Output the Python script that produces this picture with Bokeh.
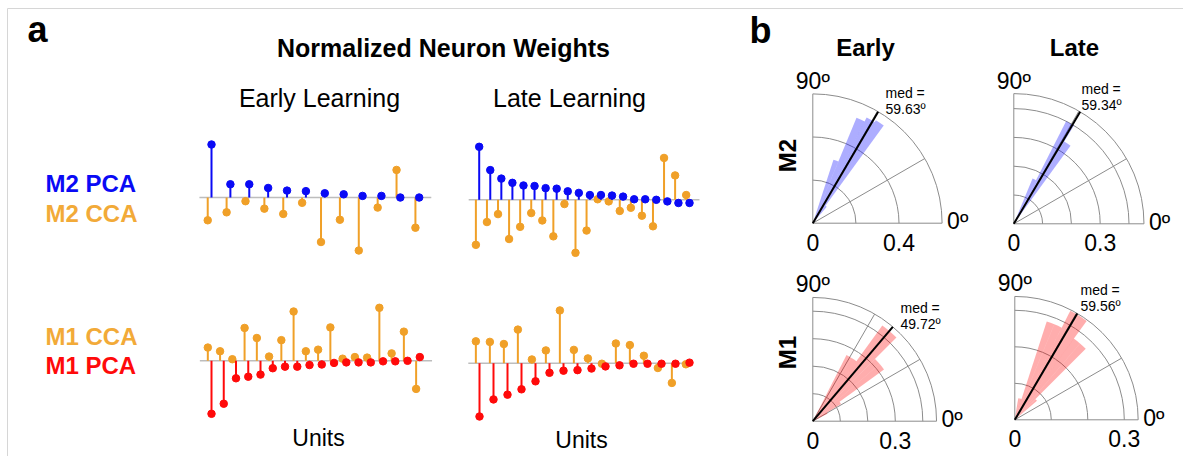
import numpy as np
from bokeh.plotting import figure
from bokeh.models import Range1d, Label
from bokeh.embed import file_html
from bokeh.resources import INLINE

W, H = 1183, 456
FONT = "Liberation Sans"

# ---- normalized neuron weights (stem plots) ----
early_m2_pca = [1.00, 0.25, 0.25, 0.18, 0.13, 0.12, 0.08, 0.06, 0.03, 0.03, 0.00, 0.00]
early_m2_cca = [-0.43, -0.28, -0.07, -0.21, -0.31, -0.10, -0.84, -0.42, -1.00, -0.19, 0.52, -0.57]

late_m2_pca = [1.00, 0.56, 0.40, 0.32, 0.27, 0.26, 0.22, 0.21, 0.16, 0.13,
               0.09, 0.09, 0.08, 0.06, 0.01, 0.01, 0.00, -0.03, -0.06, -0.06]
late_m2_cca = [-0.85, -0.42, -0.27, -0.74, -0.51, -0.25, -0.39, -0.69, -0.08, -1.00,
               -0.58, 0.01, -0.03, -0.21, -0.15, -0.30, -0.50, 0.79, 0.46, 0.09]

early_m1_pca = [-1.00, -0.81, -0.33, -0.30, -0.26, -0.14, -0.11, -0.11, -0.08,
                -0.07, -0.04, -0.03, -0.03, -0.03, -0.01, -0.01, 0.00, 0.07]
early_m1_cca = [0.25, 0.18, 0.03, 0.62, 0.43, 0.08, 0.39, 0.93, 0.18,
                0.21, 0.63, 0.04, 0.07, 0.06, 1.00, 0.14, 0.55, -0.53]

late_m1_pca = [-1.00, -0.68, -0.59, -0.49, -0.34, -0.18, -0.14, -0.13,
               -0.10, -0.06, -0.04, -0.01, -0.01, -0.01, -0.01, 0.01]
late_m1_cca = [0.41, 0.40, 0.36, 0.63, 0.07, 0.24, 0.99, 0.25,
               0.09, -0.01, 0.37, 0.34, 0.14, -0.09, -0.37, -0.02]

# ---- angle distributions (rose histograms), bins of BIN_W degrees ----
BIN_W = 4.5
early_m2_theta = [49.5, 54.0, 58.5, 63.0, 67.5]
early_m2_r = [0.10, 0.56, 0.55, 0.53, 0.31]
early_m2_med = 59.63

late_m2_theta = [54.0, 58.5, 63.0]
late_m2_r = [0.335, 0.40, 0.17]
late_m2_med = 59.34

early_m1_theta = [27.0, 31.5, 36.0, 40.5, 45.0, 49.5, 54.0, 58.5]
early_m1_r = [0.06, 0.12, 0.32, 0.32, 0.43, 0.43, 0.27, 0.27]
early_m1_med = 49.72

late_m1_theta = [40.5, 45.0, 49.5, 54.0, 58.5, 63.0, 67.5, 72.0, 76.5]
late_m1_r = [0.08, 0.275, 0.275, 0.335, 0.335, 0.283, 0.283, 0.06, 0.06]
late_m1_med = 59.56

BLUE = "#0A0AF5"
RED = "#FF0A0A"
ORANGE = "#F0A028"
ORANGE_TXT = "#F2AA38"
GRID = "#8C8C8C"

p = figure(width=W, height=H, output_backend="svg", toolbar_location=None,
           x_range=Range1d(0, W), y_range=Range1d(H, 0),
           x_axis_location=None, y_axis_location=None, min_border=0,
           outline_line_color=None, background_fill_color="white")
p.xgrid.visible = False
p.ygrid.visible = False


def text(x, y, s, size, color="black", bold=False, align="left",
         baseline="middle", angle=0.0):
    p.add_layout(Label(x=x, y=y, text=s, text_font=FONT,
                       text_font_size=f"{size}px", text_color=color,
                       text_font_style="bold" if bold else "normal",
                       text_align=align, text_baseline=baseline, angle=angle))


# frame lines
p.segment(x0=[7, 7], y0=[8, 8], x1=[W, 7], y1=[8, H], line_color="#D6D6D6", line_width=1)


def stem_panel(name, pca, cca, px_first, px_last, base_py, k, shift, span, pca_color):
    n = len(pca)
    units = np.arange(1, n + 1, dtype=float)
    s = (px_last - px_first) / (n - 1)
    x0 = 1 - px_first / s
    p.extra_x_ranges[name] = Range1d(x0, x0 + W / s)
    p.extra_y_ranges[name] = Range1d((base_py - H) / k, base_py / k)
    kw = dict(x_range_name=name, y_range_name=name)
    p.segment(x0=[span[0]], y0=[0], x1=[span[1]], y1=[0], line_color="#BDBDBD", line_width=1.5, **kw)
    cx = units - shift
    p.segment(x0=cx, y0=np.zeros(n), x1=cx, y1=cca, line_color=ORANGE, line_width=2, **kw)
    p.scatter(x=cx, y=cca, size=7.5, fill_color=ORANGE, line_color=ORANGE, **kw)
    p.segment(x0=units, y0=np.zeros(n), x1=units, y1=pca, line_color=pca_color, line_width=2, **kw)
    p.scatter(x=units, y=pca, size=7.5, fill_color=pca_color, line_color=pca_color, **kw)


stem_panel("em2", early_m2_pca, early_m2_cca, 211.0, 418.7, 197.0, 53.0, 0.2, (0.36, 12.64), BLUE)
stem_panel("lm2", late_m2_pca, late_m2_cca, 478.7, 689.0, 199.3, 53.0, 0.3, (0.05, 20.9), BLUE)
stem_panel("em1", early_m1_pca, early_m1_cca, 211.0, 419.3, 360.3, 53.0, 0.3, (0.05, 19.0), RED)
stem_panel("lm1", late_m1_pca, late_m1_cca, 479.0, 689.0, 362.7, 53.3, 0.26, (0.2, 16.2), RED)


def polar_panel(name, ox, oy, k, rmax, rings, theta, r, med, color, tick):
    p.extra_x_ranges[name] = Range1d(-ox / k, (W - ox) / k)
    p.extra_y_ranges[name] = Range1d(-(H - oy) / k, oy / k)
    kw = dict(x_range_name=name, y_range_name=name)
    # grid rings and spokes
    p.arc(x=0, y=0, radius=list(rings) + [rmax], start_angle=0, end_angle=np.pi / 2,
          line_color=GRID, line_width=1, **kw)
    sp = np.radians([0, 30, 60, 90])
    p.segment(x0=np.zeros(4), y0=np.zeros(4), x1=rmax * np.cos(sp), y1=rmax * np.sin(sp),
              line_color=GRID, line_width=1, **kw)
    # histogram
    th = np.radians(theta)
    p.wedge(x=0, y=0, radius=r, start_angle=th, end_angle=th + np.radians(BIN_W),
            fill_color=color, fill_alpha=0.32, line_color=None, **kw)
    # median direction
    m = np.radians(med)
    p.segment(x0=[0], y0=[0], x1=[rmax * np.cos(m)], y1=[rmax * np.sin(m)],
              line_color="black", line_width=2, **kw)
    # tick labels
    text(ox, oy + 19, "0", 23, align="center")
    text(ox + tick * k, oy + 19, f"{tick:g}", 23, align="center")
    text(ox + rmax * k + 5, oy - 2, "0º", 23)
    text(ox - 17, oy - rmax * k - 13, "90º", 23)


polar_panel("pem2", 812.3, 222.7, 215.5, 0.6, [0.2, 0.4], early_m2_theta, early_m2_r, early_m2_med, "#0000FF", 0.4)
polar_panel("plm2", 1013.3, 223.3, 288.0, 0.452, [0.1, 0.2, 0.3, 0.4], late_m2_theta, late_m2_r, late_m2_med, "#0000FF", 0.3)
polar_panel("pem1", 812.3, 420.7, 275.0, 0.45, [0.1, 0.2, 0.3, 0.4], early_m1_theta, early_m1_r, early_m1_med, "#FF0000", 0.3)
polar_panel("plm1", 1014.3, 419.3, 365.0, 0.338, [0.1, 0.2, 0.3], late_m1_theta, late_m1_r, late_m1_med, "#FF0000", 0.3)

# median annotations
for (tx, ty, med) in [(885, 92, early_m2_med), (1081, 88, late_m2_med),
                      (900, 307, early_m1_med), (1080, 289, late_m1_med)]:
    text(tx, ty, "med =", 14)
    text(tx, ty + 16, f"{med:.2f}º", 14)

# panel a labels
text(27, 29, "a", 36, bold=True)
text(443, 47, "Normalized Neuron Weights", 25, bold=True, align="center")
text(319, 97, "Early Learning", 25, align="center")
text(569, 97, "Late Learning", 25, align="center")
text(318, 437, "Units", 23, align="center")
text(581, 439, "Units", 23, align="center")
text(45, 183, "M2 PCA", 24, color=BLUE, bold=True)
text(45, 213, "M2 CCA", 24, color=ORANGE_TXT, bold=True)
text(45, 336, "M1 CCA", 24, color=ORANGE_TXT, bold=True)
text(45, 365, "M1 PCA", 24, color=RED, bold=True)

# panel b labels
text(749, 30, "b", 36, bold=True)
text(865, 47, "Early", 24, bold=True, align="center")
text(1074, 47, "Late", 24, bold=True, align="center")
text(787, 155, "M2", 24, bold=True, align="center", angle=np.pi / 2)
text(787, 352, "M1", 24, bold=True, align="center", angle=np.pi / 2)

open("out.html", "w").write(file_html(p, INLINE))
